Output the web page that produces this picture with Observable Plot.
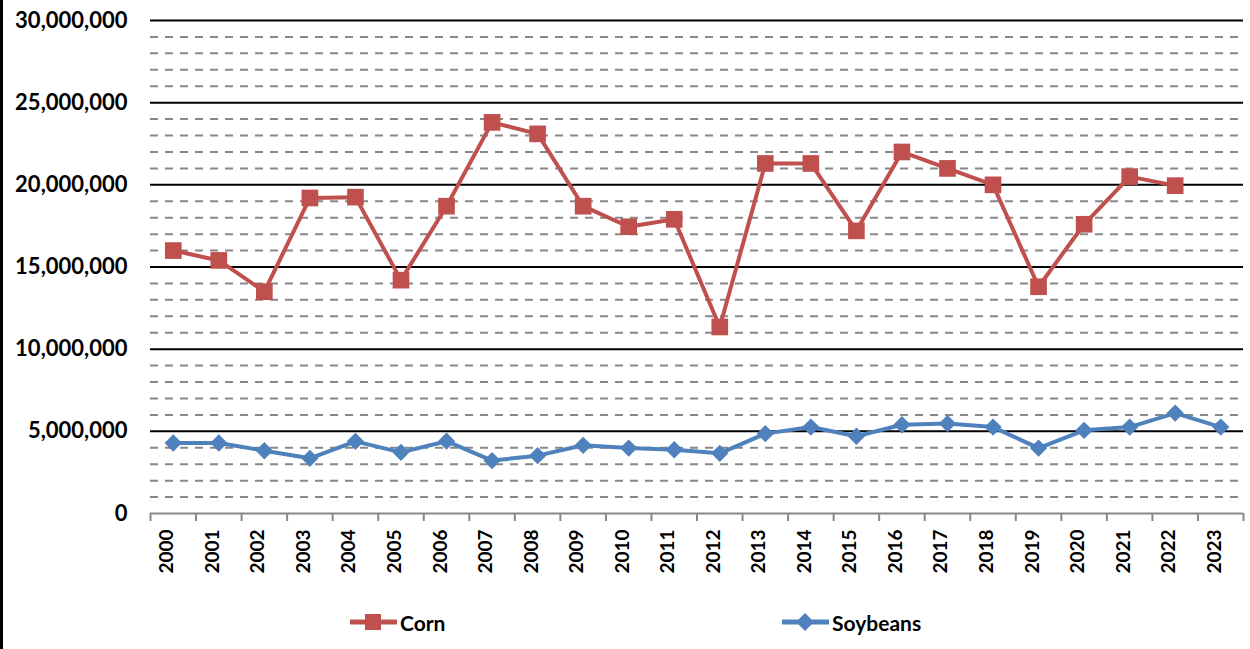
<!DOCTYPE html>
<html>
<head>
<meta charset="utf-8">
<script src="https://cdn.jsdelivr.net/npm/d3@7"></script>
<script src="https://cdn.jsdelivr.net/npm/@observablehq/plot@0.6"></script>
<style>
  html, body { margin: 0; padding: 0; background: #fff; }
  #wrap { position: relative; width: 1250px; height: 649px; overflow: hidden; font-family: Lato, sans-serif; }
  #border { position: absolute; left: 0; top: 0; width: 3px; height: 649px; background: #000; }
  #legend { position: absolute; left: 0; top: 595px; width: 1250px; height: 54px; }
  .item { position: absolute; top: 12px; display: flex; align-items: center; font-weight: bold; font-size: 21px; color: #000; }
  .item svg { display: block; margin-right: 3px; }
</style>
</head>
<body>
<div id="wrap">
  <div id="chart"></div>
  <div id="legend"></div>
  <div id="border"></div>
</div>
<script>
const years = ["2000","2001","2002","2003","2004","2005","2006","2007","2008","2009","2010","2011",
               "2012","2013","2014","2015","2016","2017","2018","2019","2020","2021","2022","2023"];
const cornYears = years.slice(0, 23);
const corn = [16.0e6, 15.4e6, 13.5e6, 19.2e6, 19.25e6, 14.2e6, 18.7e6, 23.8e6, 23.1e6, 18.7e6, 17.45e6, 17.9e6,
              11.35e6, 21.3e6, 21.3e6, 17.2e6, 22.0e6, 21.0e6, 20.0e6, 13.8e6, 17.6e6, 20.5e6, 19.95e6];
const soybeans = [4.29e6, 4.29e6, 3.82e6, 3.36e6, 4.39e6, 3.72e6, 4.4e6, 3.22e6, 3.52e6, 4.15e6, 3.98e6, 3.88e6,
                  3.66e6, 4.86e6, 5.26e6, 4.7e6, 5.4e6, 5.47e6, 5.26e6, 3.98e6, 5.06e6, 5.26e6, 6.11e6, 5.26e6];
const majorTicks = [0, 5e6, 10e6, 15e6, 20e6, 25e6, 30e6];
const minorTicks = d3.range(1e6, 30e6, 1e6).filter(v => v % 5e6 !== 0);
const seriesNames = ["Corn", "Soybeans"];
const seriesColors = ["#C0504D", "#4F81BD"];

const cornData = cornYears.map((year, i) => ({year, value: corn[i]}));
const soyData = years.map((year, i) => ({year, value: soybeans[i]}));

const W = 1250, H = 595, mL = 150, mR = 7, mT = 20, mB = 82;
const bw = (W - mL - mR) / years.length;

const chart = Plot.plot({
  width: W,
  height: H,
  marginLeft: mL,
  marginRight: mR,
  marginTop: mT,
  marginBottom: mB,
  style: {fontFamily: "Lato, sans-serif", fontWeight: "bold", color: "#000", background: "#fff"},
  x: {type: "band", domain: years, padding: 0, round: false, axis: null},
  y: {domain: [0, 30e6], axis: null},
  marks: [
    Plot.ruleY(minorTicks, {stroke: "#888", strokeWidth: 2, strokeDasharray: "8,7"}),
    Plot.ruleY(majorTicks.filter(v => v > 0), {stroke: "#000", strokeWidth: 2}),
    Plot.ruleY([0], {stroke: "#888", strokeWidth: 2}),
    Plot.ruleX(years, {x: d => d, y1: 0, y2: 0, insetBottom: -8, dx: -bw / 2, stroke: "#888", strokeWidth: 2}),
    Plot.ruleX(years.slice(-1), {x: d => d, y1: 0, y2: 0, insetBottom: -8, dx: bw / 2, stroke: "#888", strokeWidth: 2}),
    Plot.axisY({ticks: majorTicks, tickSize: 0, tickPadding: 23, fontSize: 22, fontWeight: "bold", label: null,
                tickFormat: d => d3.format(",")(d)}),
    Plot.text(years, {x: d => d, frameAnchor: "bottom", dy: 16, rotate: -90, textAnchor: "end",
                      fontSize: 19, fontWeight: "bold", fill: "#000"}),
    Plot.line(cornData, {x: "year", y: "value", stroke: seriesColors[0], strokeWidth: 4}),
    Plot.dot(cornData, {x: "year", y: "value", symbol: "square", r: 9.4, fill: seriesColors[0], stroke: "none"}),
    Plot.line(soyData, {x: "year", y: "value", stroke: seriesColors[1], strokeWidth: 4}),
    Plot.dot(soyData, {x: "year", y: "value", symbol: "diamond2", r: 7.8, fill: seriesColors[1], stroke: "none"})
  ]
});
document.getElementById("chart").appendChild(chart);

// Legend
const legend = document.getElementById("legend");
const legendLeft = [350, 782];
seriesNames.forEach((name, i) => {
  const item = document.createElement("div");
  item.className = "item";
  item.style.left = legendLeft[i] + "px";
  const sym = i === 0
    ? `<rect x="15" y="7" width="16" height="16" fill="${seriesColors[i]}"/>`
    : `<path d="M23,6 L32,15 L23,24 L14,15 Z" fill="${seriesColors[i]}"/>`;
  item.innerHTML = `<svg width="47" height="30"><line x1="1" y1="15" x2="46" y2="15" stroke="${seriesColors[i]}" stroke-width="5" stroke-linecap="round"/>${sym}</svg><span>${name}</span>`;
  legend.appendChild(item);
});
</script>
</body>
</html>
